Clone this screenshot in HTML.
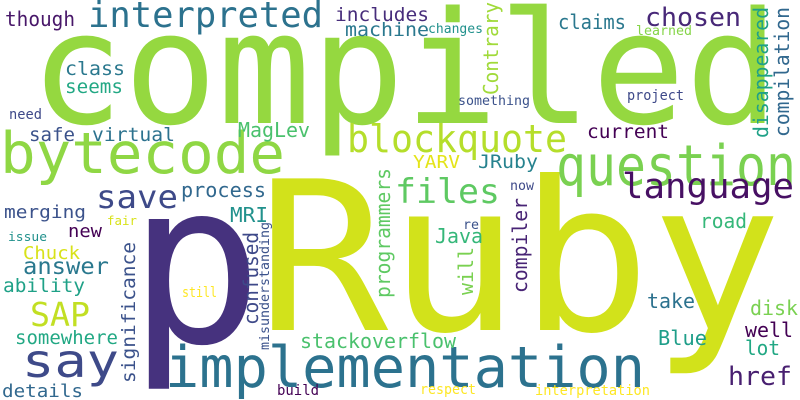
<!DOCTYPE html>
<html><head><meta charset="utf-8">
<style>
html,body{margin:0;padding:0;background:#fff;}
svg{display:block;}
text{font-family:"DejaVu Sans Mono","Liberation Mono",monospace;}
</style></head>
<body>
<svg id="cloud" width="800" height="400" xmlns="http://www.w3.org/2000/svg">
<rect width="800" height="400" fill="#fff"/>
</svg>
<script>
const words = ["compiled","Ruby","p","implementation","bytecode","question","interpreted","blockquote","files","language","save","say","chosen","includes","machine","claims","though","changes","learned","class","seems","something","project","need","safe","virtual","MagLev","current","process","merging","YARV","JRuby","now","MRI","new","answer","Chuck","fair","issue","Java","re","road","ability","SAP","still","somewhere","details","stackoverflow","disk","take","well","Blue","href","lot","build","respect","interpretation","disappeared","compilation","Contrary","programmers","will","compiler","significance","confused","misunderstanding"];
const weights = [156,208,225,57,57,56,36,38,34,35,32,46,26,19,19,20,20,13,13,19,19,13,14,14,19,19,20,19,20,18,18,19,13,20,18,23,18,12,12,20,13,20,19,33,14,19,18,20,20,20,20,20,26,20,14,14,14,20,20,20,20,20,20,19,20,13];
const colors = ["#95d840","#d2e21b","#46327e","#2c728e","#8fd744","#7ad151","#2c728e","#b5de2b","#5ec962","#471063","#3e4a89","#3e4a89","#482878","#472d7b","#2a788e","#2a788e","#481769","#21918c","#86d549","#2a788e","#22a884","#3b528b","#3e4989","#3e4989","#3b528b","#2c728e","#4ac16d","#440154","#31688e","#3b528b","#e4e419","#26828e","#3e4989","#21918c","#440154","#2a788e","#d8e219","#d8e219","#21918c","#35b779","#3b528b","#35b779","#1fa187","#c2df23","#fde725","#22a884","#31688e","#4ac16d","#7ad151","#2c728e","#440154","#1f9e89","#481f70","#22a884","#440154","#fde725","#fde725","#1fa187","#31688e","#a0da39","#5ec962","#7ad151","#482475","#3b528b","#3e4989","#3b528b"];
// layout: [x, y, length, vertical]
const layout = [[30,123,749,0],[257,330,525,0],[128,342,135,0],[165,387,480,0],[0,173,285,0],[556,185,240,0],[88,27,235,0],[347,152,220,0],[395,203,105,0],[622,198,172,0],[96,208,82,0],[22,377,97,0],[645,26,96,0],[335,21,94,0],[345,36,84,0],[558,29,68,0],[5,26,70,0],[428,33,55,0],[636,35,56,0],[65,75,60,0],[65,93,58,0],[458,105,72,0],[627,100,57,0],[9,119,33,0],[29,141,46,0],[92,141,83,0],[238,137,72,0],[587,138,82,0],[181,197,85,0],[4,218,82,0],[413,168,47,0],[478,168,60,0],[510,190,24,0],[230,222,38,0],[68,237,34,0],[23,274,86,0],[23,259,57,0],[107,225,30,0],[8,241,39,0],[435,243,48,0],[463,229,16,0],[700,228,47,0],[3,292,82,0],[30,326,60,0],[182,297,35,0],[15,344,103,0],[2,397,81,0],[300,348,156,0],[750,315,48,0],[647,308,48,0],[745,337,48,0],[658,345,49,0],[728,385,64,0],[745,355,35,0],[277,395,42,0],[420,394,56,0],[535,395,115,0],[772,138,131,1],[793,137,130,1],[502,95,93,1],[394,298,130,1],[477,295,48,1],[531,293,95,1],[139,383,141,1],[262,325,93,1],[272,350,128,1]];
const svg = document.getElementById('cloud');
const NS = 'http://www.w3.org/2000/svg';
words.forEach((w,i)=>{
  const [x,y,len,v] = layout[i];
  const t = document.createElementNS(NS,'text');
  
  
  t.setAttribute('font-size', weights[i]);
  t.setAttribute('fill', colors[i]);
  t.setAttribute('textLength', len);
  t.setAttribute('lengthAdjust', 'spacingAndGlyphs');
  if (v) {
    t.setAttribute('x', 0); t.setAttribute('y', 0);
    t.setAttribute('transform', 'translate(' + (x - Math.round(weights[i]*0.2)) + ',' + y + ') rotate(-90)');
  } else {
    t.setAttribute('x', x); t.setAttribute('y', y);
  }
  t.textContent = w;
  svg.appendChild(t);
});
</script>
</body></html>
